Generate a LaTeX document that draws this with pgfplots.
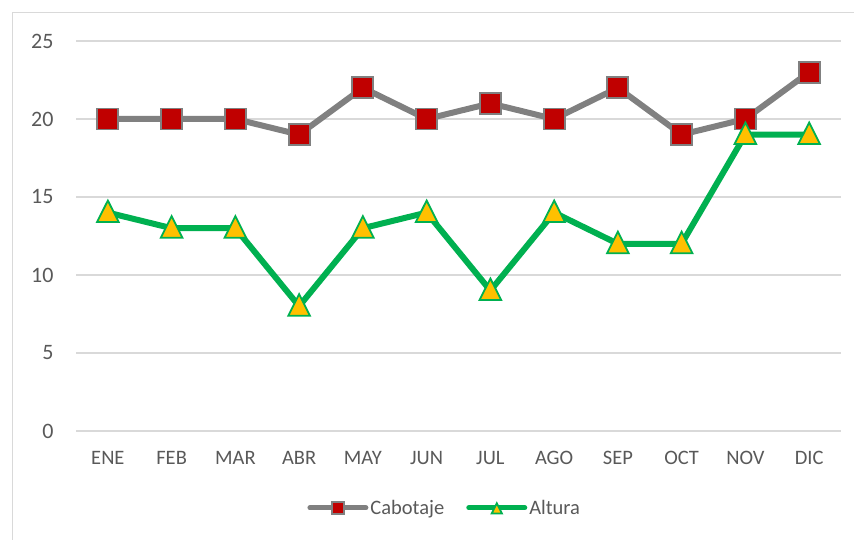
\documentclass[border=0pt]{standalone}
\usepackage{fontspec}
\setmainfont{Carlito}
\usepackage{pgfplots}
\pgfplotsset{compat=1.18}
\definecolor{cabline}{HTML}{808080}
\definecolor{cabfill}{HTML}{C00000}
\definecolor{altline}{HTML}{00B050}
\definecolor{altfill}{HTML}{FFC000}
\definecolor{gridc}{HTML}{D9D9D9}
\definecolor{txt}{HTML}{595959}
\begin{document}
\begin{tikzpicture}[x=1pt,y=1pt]
\path[use as bounding box] (0,0) rectangle (854,540);
\draw[gridc, line width=1.2pt] (12.5,0) -- (12.5,527.5) -- (854,527.5);
\begin{axis}[
  at={(76pt,109pt)}, anchor=south west,
  scale only axis, width=765pt, height=390pt,
  xmin=-0.5, xmax=11.5, ymin=0, ymax=25,
  ytick={0,5,10,15,20,25},
  xtick={0,...,11},
  xticklabels={ENE,FEB,MAR,ABR,MAY,JUN,JUL,AGO,SEP,OCT,NOV,DIC},
  axis line style={draw=none},
  axis x line*=bottom,
  x axis line style={gridc, line width=1.2pt},
  tick style={draw=none},
  ymajorgrids, grid style={gridc, line width=1.2pt},
  /pgf/number format/assume math mode=true,
  tick label style={text=txt},
  yticklabel style={font=\fontsize{22}{26}\selectfont, xshift=-19pt},
  xticklabel style={font=\fontsize{20.5}{24}\selectfont, yshift=-17pt},
  legend style={at={(0.482,-0.197)}, anchor=center, draw=none, fill=none,
    legend columns=2, font=\fontsize{20.5}{24}\selectfont, text=txt,
    /tikz/every even column/.append style={column sep=20pt}},
  legend image code/.code={\draw[mark repeat=2,mark phase=2,#1,mark size=6pt,line width=5pt,line cap=round] plot coordinates {(0pt,0pt) (28pt,0pt) (56pt,0pt)};},
]
\addplot[cabline, line width=6pt, mark=square*, mark size=10.5pt,
  mark options={fill=cabfill, draw=cabline, line width=1.8pt}]
  coordinates {(0,20) (1,20) (2,20) (3,19) (4,22) (5,20) (6,21) (7,20) (8,22) (9,19) (10,20) (11,23)};
\addlegendentry{Cabotaje}
\addplot[altline, line width=6pt, mark=triangle*, mark size=12.5pt,
  mark options={fill=altfill, draw=altline, line width=1.8pt, yscale=1.15, yshift=-2pt}]
  coordinates {(0,14) (1,13) (2,13) (3,8) (4,13) (5,14) (6,9) (7,14) (8,12) (9,12) (10,19) (11,19)};
\addlegendentry{Altura}
\end{axis}
\end{tikzpicture}
\end{document}
